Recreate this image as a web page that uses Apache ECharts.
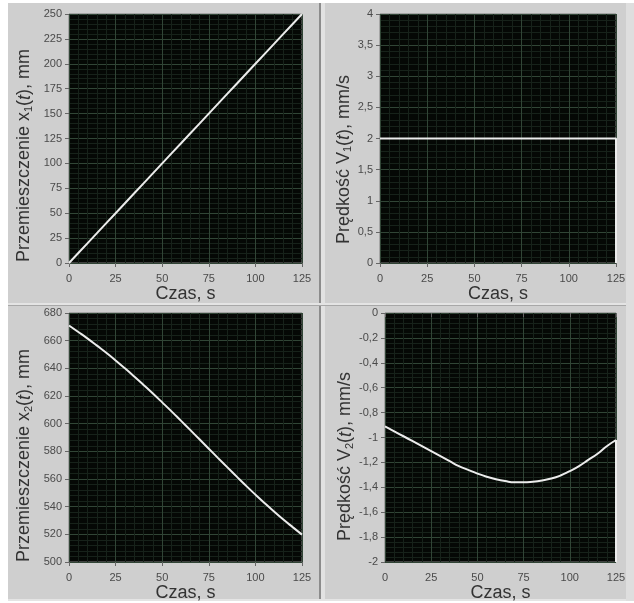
<!DOCTYPE html>
<html><head><meta charset="utf-8">
<script src="https://cdn.jsdelivr.net/npm/echarts@6/dist/echarts.min.js"></script>
<style>html,body{margin:0;padding:0;background:#fff}#c{width:634px;height:603px}</style>
</head><body><div id="c"></div>
<script>
// ---- data ----
const time = [0,5,10,15,20,25,30,35,40,45,50,55,60,65,70,75,80,85,90,95,100,105,110,115,120,125];
const x1Values = [0,10,20,30,40,50,60,70,80,90,100,110,120,130,140,150,160,170,180,190,200,210,220,230,240,250];
const v1Time = [0,25,50,75,100,125,125];
const v1Values = [2,2,2,2,2,2,0];
const x2Values = [671,666.3,661.5,656.4,651.2,645.7,640,634.1,628,621.8,615.4,608.9,602.2,595.5,588.7,581.9,575.1,568.4,561.7,555.1,548.7,542.5,536.5,530.7,525.2,519.8];
const v2Values = [-0.91,-0.95,-0.99,-1.03,-1.07,-1.11,-1.15,-1.19,-1.23,-1.26,-1.29,-1.315,-1.335,-1.35,-1.36,-1.36,-1.355,-1.345,-1.33,-1.305,-1.27,-1.23,-1.18,-1.13,-1.07,-1.02];
const v2DropTime = [125,125];
const v2DropValues = [-1.02,-2];
const xTicks = [0,25,50,75,100,125];
const x1Ticks = [0,25,50,75,100,125,150,175,200,225,250];
const v1Ticks = [0,0.5,1,1.5,2,2.5,3,3.5,4];
const x2Ticks = [500,520,540,560,580,600,620,640,660,680];
const v2Ticks = [-2,-1.8,-1.6,-1.4,-1.2,-1,-0.8,-0.6,-0.4,-0.2,0];
const xTitle = 'Czas, s';
const yTitles = [
  'Przemieszczenie x{s|1}({i|t}), mm',
  'Prędkość V{s|1}({i|t}), mm/s',
  'Przemieszczenie x{s|2}({i|t}), mm',
  'Prędkość V{s|2}({i|t}), mm/s'
];

// ---- chart ----
const FONT = 'Liberation Sans, Arial, sans-serif';
const fmt = v => String(Math.round(v*1000)/1000).replace('.', ',');
const grids = [
  {left:69, top:14, width:233, height:249},
  {left:380, top:14, width:236, height:249},
  {left:69, top:313, width:233, height:249},
  {left:385, top:313, width:231, height:249}
];
const yTickSets = [x1Ticks, v1Ticks, x2Ticks, v2Ticks];
const nameGaps = [35, 26, 35, 30];
const nameShift = [17, 21, 18, 19];

function axisCommon(){
  return {
    axisLine:{show:false},
    axisTick:{show:true, length:4, lineStyle:{color:'#666'}},
    axisLabel:{color:'#4a4a4a', fontSize:11, fontFamily:FONT, formatter:fmt},
    splitLine:{show:true, lineStyle:{color:'#314536', width:1}},
    minorTick:{show:false, splitNumber:5},
    minorSplitLine:{show:true, lineStyle:{color:'#17221a', width:1}}
  };
}
const xAxes = [], yAxes = [];
grids.forEach((g,i)=>{
  xAxes.push(Object.assign(axisCommon(), {
    type:'value', gridIndex:i, min:xTicks[0], max:xTicks[xTicks.length-1], interval:xTicks[1]-xTicks[0],
    name:xTitle, nameLocation:'middle', nameGap:20,
    nameTextStyle:{fontSize:18, color:'#333', fontFamily:FONT}
  }));
  xAxes[i].axisLabel.margin = 10;
  const yt = yTickSets[i];
  yAxes.push(Object.assign(axisCommon(), {
    type:'value', gridIndex:i, min:yt[0], max:yt[yt.length-1], interval:Math.round((yt[1]-yt[0])*1000)/1000,
    name:yTitles[i], nameLocation:'middle', nameGap:nameGaps[i], nameRotate:90,
    nameTextStyle:{fontSize:18, color:'#333', fontFamily:FONT, padding:[0, nameShift[i]*2, 0, 0],
      rich:{
        s:{fontSize:11, color:'#333', fontFamily:FONT, verticalAlign:'bottom', padding:[8,0,0,0]},
        i:{fontSize:18, color:'#333', fontFamily:FONT, fontStyle:'italic'}
      }}
  }));
  yAxes[i].axisLabel.margin = 7;
});

const LINE_COLOR = '#ececec';
function zip(a,b){ return a.map((v,k)=>[v,b[k]]); }
const series = [
  {type:'line', xAxisIndex:0, yAxisIndex:0, data:zip(time,x1Values), clip:true},
  {type:'line', xAxisIndex:1, yAxisIndex:1, data:zip(v1Time,v1Values), clip:false},
  {type:'line', xAxisIndex:2, yAxisIndex:2, data:zip(time,x2Values), smooth:0.5, clip:true},
  {type:'line', xAxisIndex:3, yAxisIndex:3, data:zip(time,v2Values), smooth:0.5, clip:false},
  {type:'line', xAxisIndex:3, yAxisIndex:3, data:zip(v2DropTime,v2DropValues), clip:false}
].map(s=>Object.assign({showSymbol:false, lineStyle:{color:LINE_COLOR, width:2}, animation:false}, s));

const chart = echarts.init(document.getElementById('c'), null, {renderer:'canvas'});
chart.setOption({
  backgroundColor:'#ffffff',
  animation:false,
  graphic:[
    {type:'rect', z:-10, shape:{x:8, y:3, width:618, height:598}, style:{fill:'#cfcfcf'}},
    {type:'rect', z:-9, shape:{x:626, y:3, width:8, height:598}, style:{fill:'#dedede'}},
    {type:'rect', z:-9, shape:{x:319, y:3, width:2, height:598}, style:{fill:'#8c8c8c'}},
    {type:'rect', z:-9, shape:{x:321, y:3, width:4, height:598}, style:{fill:'#e2e2e2'}},
    {type:'rect', z:-9, shape:{x:8, y:303, width:618, height:2}, style:{fill:'#e4e4e4'}},
    {type:'rect', z:-9, shape:{x:8, y:305, width:618, height:1}, style:{fill:'#a8a8a8'}},
    {type:'rect', z:-9, shape:{x:8, y:599, width:618, height:2}, style:{fill:'#e4e4e4'}}
  ],
  grid:grids.map(g=>Object.assign({show:true, backgroundColor:'#050805', borderColor:'#7a7a7a', borderWidth:1}, g)),
  xAxis:xAxes,
  yAxis:yAxes,
  series
});
</script></body></html>
